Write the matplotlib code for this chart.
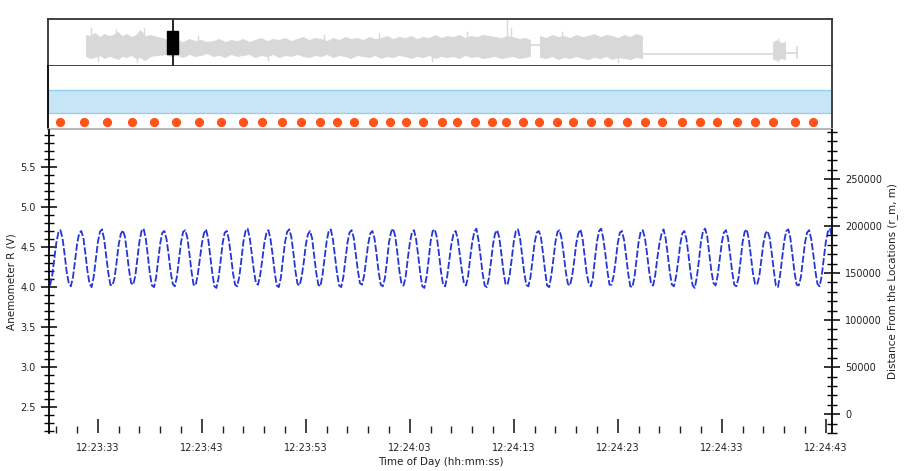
import matplotlib
matplotlib.use("Agg")
import matplotlib.pyplot as plt
import numpy as np

# --- data ------------------------------------------------------------------

# anemometer samples, one row per ~2 s cycle, sampled every 0.2 s from 12:23:28.4
T_START = 28.4          # seconds after 12:23:00
DT = 0.2
wave_rows = [
    [4.02, 4.14, 4.34, 4.55, 4.68, 4.71, 4.61, 4.41, 4.19, 4.05],
    [4.01, 4.12, 4.32, 4.54, 4.67, 4.70, 4.62, 4.42, 4.20, 4.04],
    [4.00, 4.13, 4.35, 4.56, 4.69, 4.72, 4.60, 4.39, 4.18, 4.03],
    [4.02, 4.11, 4.31, 4.53, 4.66, 4.71, 4.63, 4.43, 4.21, 4.05],
    [4.03, 4.14, 4.36, 4.57, 4.70, 4.73, 4.61, 4.40, 4.17, 4.02],
    [4.00, 4.12, 4.33, 4.55, 4.68, 4.70, 4.60, 4.41, 4.19, 4.04],
    [4.01, 4.13, 4.34, 4.56, 4.69, 4.71, 4.62, 4.42, 4.20, 4.03],
    [4.02, 4.15, 4.35, 4.54, 4.67, 4.72, 4.61, 4.40, 4.18, 4.01],
    [3.99, 4.11, 4.32, 4.55, 4.68, 4.70, 4.59, 4.39, 4.17, 4.03],
    [4.01, 4.13, 4.34, 4.57, 4.70, 4.73, 4.62, 4.42, 4.21, 4.05],
    [4.03, 4.14, 4.33, 4.54, 4.67, 4.71, 4.60, 4.41, 4.19, 4.02],
    [4.00, 4.12, 4.35, 4.56, 4.69, 4.72, 4.63, 4.43, 4.20, 4.04],
    [4.02, 4.13, 4.31, 4.53, 4.66, 4.70, 4.61, 4.40, 4.18, 4.03],
    [4.01, 4.15, 4.36, 4.57, 4.70, 4.72, 4.60, 4.39, 4.17, 4.02],
    [4.00, 4.12, 4.33, 4.55, 4.68, 4.71, 4.62, 4.42, 4.21, 4.05],
    [4.03, 4.14, 4.34, 4.54, 4.67, 4.70, 4.61, 4.41, 4.19, 4.03],
    [4.01, 4.11, 4.32, 4.56, 4.69, 4.73, 4.63, 4.43, 4.20, 4.04],
    [4.02, 4.13, 4.35, 4.55, 4.68, 4.71, 4.60, 4.40, 4.18, 4.01],
    [3.99, 4.12, 4.33, 4.57, 4.70, 4.72, 4.62, 4.42, 4.19, 4.03],
    [4.01, 4.14, 4.34, 4.54, 4.66, 4.70, 4.61, 4.41, 4.21, 4.05],
    [4.02, 4.13, 4.36, 4.56, 4.69, 4.73, 4.59, 4.39, 4.17, 4.02],
    [4.00, 4.11, 4.31, 4.53, 4.67, 4.71, 4.62, 4.42, 4.20, 4.04],
    [4.03, 4.15, 4.35, 4.57, 4.70, 4.72, 4.61, 4.40, 4.18, 4.03],
    [4.01, 4.12, 4.33, 4.55, 4.68, 4.70, 4.63, 4.43, 4.21, 4.02],
    [4.00, 4.14, 4.34, 4.56, 4.69, 4.71, 4.60, 4.41, 4.19, 4.04],
    [4.02, 4.13, 4.32, 4.54, 4.67, 4.72, 4.62, 4.40, 4.18, 4.05],
    [4.01, 4.11, 4.35, 4.57, 4.70, 4.73, 4.61, 4.42, 4.20, 4.03],
    [4.03, 4.14, 4.33, 4.55, 4.68, 4.70, 4.59, 4.39, 4.17, 4.01],
    [4.00, 4.12, 4.34, 4.56, 4.69, 4.71, 4.62, 4.43, 4.21, 4.04],
    [4.02, 4.15, 4.36, 4.54, 4.66, 4.72, 4.61, 4.41, 4.19, 4.03],
    [4.01, 4.13, 4.31, 4.53, 4.67, 4.70, 4.60, 4.40, 4.18, 4.02],
    [3.99, 4.12, 4.33, 4.57, 4.70, 4.73, 4.63, 4.42, 4.20, 4.05],
    [4.02, 4.14, 4.35, 4.55, 4.68, 4.71, 4.61, 4.41, 4.19, 4.03],
    [4.01, 4.11, 4.32, 4.56, 4.69, 4.72, 4.60, 4.39, 4.17, 4.04],
    [4.03, 4.13, 4.34, 4.54, 4.67, 4.70, 4.62, 4.43, 4.21, 4.02],
    [4.00, 4.14, 4.36, 4.57, 4.70, 4.72, 4.61, 4.40, 4.18, 4.03],
    [4.02, 4.12, 4.33, 4.55, 4.68, 4.71, 4.60, 4.41, 4.20, 4.04],
    [4.01, 4.13, 4.35, 4.56, 4.69, 4.73, 4.62, 4.42, 4.19, 4.03],
]

# profile location hits (seconds after 12:23:00)
dot_times = [29.5, 31.8, 34.0, 36.4, 38.5, 40.6, 42.8, 44.9, 47.0, 48.9,
             50.8, 52.6, 54.4, 56.1, 57.7, 59.5, 61.1, 62.7, 64.3, 66.1,
             67.6, 69.3, 70.9, 72.3, 73.9, 75.5, 77.2, 78.7, 80.5, 82.1,
             83.9, 85.6, 87.3, 89.2, 90.9, 92.6, 94.5, 96.2, 97.9, 100.0,
             101.8]

# x axis
x_range = (28.3, 103.6)
tick_secs = [33, 43, 53, 63, 73, 83, 93, 103]
tick_labels = ["12:23:33", "12:23:43", "12:23:53", "12:24:03",
               "12:24:13", "12:24:23", "12:24:33", "12:24:43"]

# session overview envelope (minutes into session, arbitrary amplitude units)
ov_t = [3.8, 4.2, 4.7, 5.2, 5.6, 6.1, 6.5, 7.0, 7.4, 7.9, 8.3, 8.8, 9.2, 9.7, 10.2,
        11.7, 12.3, 12.9, 13.5, 14.1, 14.7, 15.3, 15.9, 16.5, 17.1, 17.7, 18.3,
        18.9, 19.5, 20.1, 20.7, 21.3, 21.9, 22.5, 23.1, 23.7, 24.3, 24.9, 25.5,
        26.1, 26.7, 27.3, 27.9, 28.5, 29.1, 29.7, 30.3, 30.9, 31.5, 32.1, 32.7,
        33.3, 33.9, 34.5, 35.1, 35.7, 36.3, 36.9, 37.5, 38.1, 38.7, 39.3, 39.9,
        40.5, 41.1, 41.7, 42.3, 42.9, 43.5, 44.1, 44.7, 45.3, 45.9, 46.5, 47.1,
        47.7, 48.2]
ov_top = [31, 30, 33, 29, 32, 30, 31, 34, 30, 32, 29, 31, 36, 30, 31,
          27, 25, 26, 24, 27, 25, 26, 24, 25, 27, 24, 26, 25, 27, 24, 26, 28,
          25, 27, 26, 28, 25, 27, 29, 26, 28, 27, 25, 28, 26, 29, 27, 28, 26,
          29, 27, 28, 30, 27, 29, 28, 30, 27, 29, 28, 31, 28, 30, 29, 31, 28,
          30, 29, 31, 30, 29, 28, 30, 29, 27, 28, 26]
ov_bottom = [10, 8, 9, 11, 8, 10, 9, 7, 10, 9, 11, 8, 9, 6, 10,
             12, 10, 11, 9, 12, 10, 11, 13, 10, 11, 9, 12, 10, 11, 12, 9, 11,
             10, 12, 9, 11, 10, 12, 10, 9, 11, 10, 12, 9, 11, 10, 8, 11, 10,
             9, 11, 8, 10, 9, 11, 10, 8, 10, 9, 11, 8, 10, 9, 10, 8, 11,
             9, 10, 8, 9, 10, 8, 9, 10, 8, 9, 10]
ov_t2 = [49.2, 49.8, 50.4, 51.0, 51.6, 52.2, 52.8, 53.4, 54.0, 54.6, 55.2, 55.8,
         56.4, 57.0, 57.6, 58.2, 58.8, 59.4]
ov_top2 = [30, 28, 31, 29, 30, 28, 31, 29, 30, 32, 29, 31, 30, 28, 31, 29, 32, 30]
ov_bottom2 = [9, 8, 10, 7, 9, 8, 10, 8, 7, 9, 8, 10, 7, 9, 8, 7, 9, 8]
ov_t3 = [72.5, 72.9, 73.3, 73.7]
ov_top3 = [24, 26, 23, 24]
ov_bottom3 = [7, 6, 8, 7]
ov_quiet = [(10.2, 11.7, 19), (48.2, 49.2, 21), (59.4, 72.5, 12), (73.7, 74.9, 13)]
# short excursions above / below the envelope: (minute, low, high)
ov_spikes = [(4.3, 27, 38), (5.0, 5, 12), (6.8, 28, 36), (8.9, 4, 10), (9.6, 30, 38),
             (15.0, 22, 30), (22.0, 6, 12), (27.6, 24, 31), (33.1, 27, 33),
             (38.4, 5, 11), (41.9, 27, 34), (45.9, 26, 46), (46.3, 27, 38),
             (51.4, 27, 34), (57.0, 4, 10), (73.0, 5, 27)]
ov_cursor = 12.5

# --- figure -------------------------------------------------------------------
W, H = 909, 471
fig = plt.figure(figsize=(W / 100, H / 100), dpi=100)
plt.rcParams['font.family'] = ['DejaVu Sans']
txt = '#222222'
grey = '#d8d8d8'


def box(x0, y0, x1, y1):
    return [x0 / W, 1 - y1 / H, (x1 - x0) / W, (y1 - y0) / H]


# overview strip
ov = fig.add_axes(box(48, 19, 832, 66))
ov.set_xlim(0, 78.4)
ov.set_ylim(0, 47)
ov.fill_between(ov_t, ov_bottom, ov_top, color=grey, lw=0.6)
ov.fill_between(ov_t2, ov_bottom2, ov_top2, color=grey, lw=0.6)
ov.fill_between(ov_t3, ov_bottom3, ov_top3, color=grey, lw=0.6)
for t0, t1, lev in ov_quiet:
    ov.plot([t0, t1], [lev, lev], color=grey, lw=1.2)
for ts, lo, hi in ov_spikes:
    ov.plot([ts, ts], [lo, hi], color=grey, lw=1.0)
ov.plot([10.4, 10.4], [11, 26], color=grey, lw=1.2)
ov.plot([11.5, 11.5], [11, 26], color=grey, lw=1.2)
ov.plot([74.9, 74.9], [8, 19], color=grey, lw=1.2)
ov.axvline(ov_cursor, color='black', lw=1.2)
ov.add_patch(plt.Rectangle((ov_cursor - 0.55, 12), 1.1, 23, color='black'))
ov.set_xticks([])
ov.set_yticks([])
for s in ov.spines.values():
    s.set_color('#333333')
    s.set_linewidth(1.3)

# middle strip: band + location hits
mid = fig.add_axes(box(48, 66, 832, 129))
mid.set_xlim(*x_range)
mid.set_ylim(0, 1)
mid.axhspan(0.254, 0.619, facecolor='#c6e5f5', edgecolor='#92cde9', lw=0.9)
mid.plot(dot_times, [0.11] * len(dot_times), 'o', color='#ff5319', ms=5.6,
         mec='#ff5319')
mid.set_xticks([])
mid.set_yticks([])
mid.spines['top'].set_visible(False)
mid.spines['left'].set_color('black')
mid.spines['left'].set_linewidth(1.3)
mid.spines['right'].set_color('#333333')
mid.spines['right'].set_linewidth(1.3)
mid.spines['bottom'].set_color('#aaaaaa')
mid.spines['bottom'].set_linewidth(1.2)

# main plot
ax = fig.add_axes(box(49, 130, 832, 433))
wave = np.concatenate(wave_rows)
t = T_START + DT * np.arange(len(wave))
ax.plot(t, wave, color='#2536d6', lw=1.3, dashes=(4, 1.2))
ax.set_xlim(*x_range)
ax.set_ylim(2.18, 5.96)
ax.set_xticks(tick_secs)
ax.set_xticklabels(tick_labels)
ax.set_xticks(np.arange(29, 104, 2), minor=True)
ax.set_yticks([2.5, 3.0, 3.5, 4.0, 4.5, 5.0, 5.5])
ax.set_yticks(np.arange(2.2, 5.96, 0.1), minor=True)
ax.tick_params(axis='x', which='major', direction='in', length=10, width=1.2,
               pad=7, labelsize=7, labelcolor=txt, color='#222')
ax.tick_params(axis='x', which='minor', direction='in', length=5, width=1,
               color='#222')
ax.tick_params(axis='y', which='major', direction='inout', length=12, width=1.1,
               labelsize=7, labelcolor=txt)
ax.tick_params(axis='y', which='minor', direction='inout', length=7, width=1)
ax.spines['top'].set_visible(False)
ax.spines['bottom'].set_visible(False)
ax.spines['right'].set_visible(False)
ax.spines['left'].set_linewidth(1.3)
ax.set_xlabel("Time of Day (hh:mm:ss)", fontsize=7.5, color=txt, labelpad=3)
ax.set_ylabel("Anemometer R (V)", fontsize=7.5, color=txt)
ax.yaxis.set_label_coords(-0.042, 0.5)

ax2 = ax.twinx()
ax2.set_ylim(-20000, 302000)
ax2.set_yticks([0, 50000, 100000, 150000, 200000, 250000])
ax2.set_yticklabels(["0", "50000", "100000", "150000", "200000", "250000"])
ax2.set_yticks(np.arange(-20000, 302000, 10000), minor=True)
ax2.tick_params(axis='y', which='major', direction='inout', length=12, width=1.1,
                labelsize=7, labelcolor=txt)
ax2.tick_params(axis='y', which='minor', direction='inout', length=7, width=1)
for k in ['top', 'bottom', 'left']:
    ax2.spines[k].set_visible(False)
ax2.spines['right'].set_linewidth(1.3)
ax2.set_ylabel("Distance From the Locations (r_m, m)", fontsize=7.5, color=txt)
ax2.yaxis.set_label_coords(1.07, 0.5)

fig.savefig("out.png", dpi=100)
